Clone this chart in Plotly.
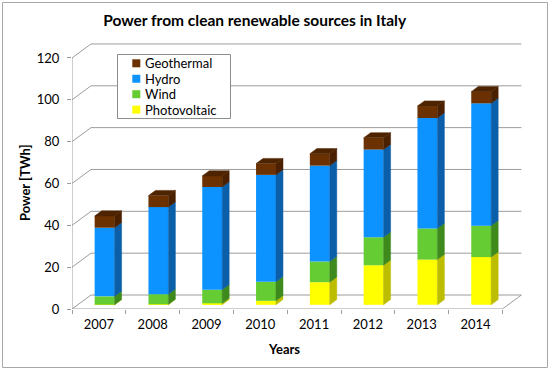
import plotly.graph_objects as go

# ---------------- data ----------------
years = ["2007", "2008", "2009", "2010", "2011", "2012", "2013", "2014"]
photovoltaic = [0.04, 0.2, 0.7, 1.9, 10.8, 18.9, 21.6, 22.8]
wind = [4.0, 4.9, 6.5, 9.1, 9.9, 13.4, 14.9, 15.0]
hydro = [32.8, 41.6, 49.1, 51.1, 45.8, 41.9, 52.8, 58.5]
geothermal = [5.6, 5.5, 5.3, 5.4, 5.7, 5.6, 5.7, 5.6]
y_ticks = [0, 20, 40, 60, 80, 100, 120]

series_names = ["Photovoltaic", "Wind", "Hydro", "Geothermal"]
series_values = [photovoltaic, wind, hydro, geothermal]
front_colors = ["#FFFF00", "#66CC33", "#0D93FF", "#6B3100"]
side_colors = ["#BDBD00", "#3F8A1C", "#0A5FA8", "#4A2000"]

# ---------------- geometry ----------------
FIG_W, FIG_H = 550, 371
ML, MR, MT, MB = 72, 28, 43, 62
PLOT_W = FIG_W - ML - MR
PLOT_H = FIG_H - MT - MB
PX_X = 53.8          # px per category
PX_Y = 2.092         # px per TWh
DX = 19 / PX_X       # floor depth (x, data units)
DY = 14 / PX_Y       # floor depth (y, data units)
F_OFF = 0.30         # bar front position within depth
F_DEP = 0.37         # bar depth fraction
BW = 0.37            # bar width (category units)

n = len(years)
xr = [-0.5, -0.5 + PLOT_W / PX_X]
yr = [0, PLOT_H / PX_Y]
GRID = "#9C9C9C"

fig = go.Figure()

cum = [0.0] * n
bx = [i + F_OFF * DX for i in range(n)]
bdx, bdy = F_DEP * DX, F_DEP * DY
for k, (name, vals) in enumerate(zip(series_names, series_values)):
    base = [c + F_OFF * DY for c in cum]
    fig.add_trace(go.Bar(
        x=bx, y=vals, base=base, width=BW, name=name, showlegend=False,
        marker=dict(color=front_colors[k], line=dict(width=0)),
        hovertemplate=name + " %{y} TWh<extra></extra>",
    ))
    # side faces
    sx, sy = [], []
    for i in range(n):
        x0 = bx[i] + BW / 2
        b0, t0 = base[i], base[i] + vals[i]
        sx += [x0, x0 + bdx, x0 + bdx, x0, x0, None]
        sy += [b0, b0 + bdy, t0 + bdy, t0, b0, None]
    fig.add_trace(go.Scatter(
        x=sx, y=sy, mode="lines", fill="toself", fillcolor=side_colors[k],
        line=dict(color=side_colors[k], width=0.5), showlegend=False,
        hoverinfo="skip"))
    cum = [c + v for c, v in zip(cum, vals)]

# top faces of topmost segment
tx, ty = [], []
for i in range(n):
    xl, xrr = bx[i] - BW / 2, bx[i] + BW / 2
    t0 = cum[i] + F_OFF * DY
    tx += [xl, xl + bdx, xrr + bdx, xrr, xl, None]
    ty += [t0, t0 + bdy, t0 + bdy, t0, t0, None]
fig.add_trace(go.Scatter(
    x=tx, y=ty, mode="lines", fill="toself", fillcolor="#4E2300",
    line=dict(color="#4E2300", width=0.5), showlegend=False, hoverinfo="skip"))

# ---------------- walls / gridlines ----------------
x_first, x_last = -0.5, n - 0.5
shapes = []
for v in y_ticks:
    shapes.append(dict(type="line", xref="x", yref="y", layer="below",
                       x0=x_first, y0=v, x1=x_first + DX, y1=v + DY,
                       line=dict(color=GRID, width=1)))
    shapes.append(dict(type="line", xref="x", yref="y", layer="below",
                       x0=x_first + DX, y0=v + DY, x1=x_last + DX, y1=v + DY,
                       line=dict(color=GRID, width=1)))
shapes.append(dict(type="line", xref="x", yref="y", layer="below",
                   x0=x_first, y0=y_ticks[0], x1=x_last, y1=y_ticks[0],
                   line=dict(color=GRID, width=1)))
shapes.append(dict(type="line", xref="x", yref="y", layer="below",
                   x0=x_last, y0=y_ticks[0], x1=x_last + DX, y1=y_ticks[0] + DY,
                   line=dict(color=GRID, width=1)))
shapes.append(dict(type="line", xref="x", yref="y", layer="below",
                   x0=x_first, y0=y_ticks[0], x1=x_first, y1=y_ticks[-1],
                   line=dict(color=GRID, width=1)))


def px2paper_x(px):
    return (px - ML) / PLOT_W


def px2paper_y(py):
    return (FIG_H - MB - py) / PLOT_H


# outer chart border
shapes.append(dict(type="rect", xref="paper", yref="paper", layer="below",
                   x0=px2paper_x(2.5), x1=px2paper_x(547.5),
                   y0=px2paper_y(367.5), y1=px2paper_y(2.5),
                   line=dict(color="#A8A8A8", width=1)))

FONT = "Lato, 'Open Sans', sans-serif"

# ---------------- legend (box, keys, labels) ----------------
LEG_L, LEG_R, LEG_T, LEG_B = 117.5, 230.5, 54.5, 118.5
KEY_X0, KEY_SIZE, TXT_X = 132.3, 8, 143.3
ROW0, ROW_STEP = 63.3, 15.45
shapes.append(dict(type="rect", xref="paper", yref="paper", layer="above",
                   x0=px2paper_x(LEG_L), x1=px2paper_x(LEG_R),
                   y0=px2paper_y(LEG_B), y1=px2paper_y(LEG_T),
                   fillcolor="white", line=dict(color="#8C8C8C", width=1)))
annotations = []
legend_order = list(range(len(series_names)))[::-1]
for row, k in enumerate(legend_order):
    cy = ROW0 + row * ROW_STEP
    shapes.append(dict(type="rect", xref="paper", yref="paper", layer="above",
                       x0=px2paper_x(KEY_X0), x1=px2paper_x(KEY_X0 + KEY_SIZE),
                       y0=px2paper_y(cy + KEY_SIZE / 2),
                       y1=px2paper_y(cy - KEY_SIZE / 2),
                       fillcolor=front_colors[k], line=dict(width=0)))
    annotations.append(dict(text=series_names[k], xref="paper", yref="paper",
                            x=px2paper_x(TXT_X), y=px2paper_y(cy),
                            xanchor="left", yanchor="middle", showarrow=False,
                            font=dict(size=13, family=FONT)))

annotations += [
    dict(text="<b>Power [TWh]</b>", xref="paper", yref="paper",
         x=px2paper_x(25), y=px2paper_y(183), textangle=-90,
         showarrow=False, font=dict(size=13, family=FONT),
         xanchor="center", yanchor="middle"),
    dict(text="<b>Years</b>", xref="paper", yref="paper",
         x=px2paper_x(284), y=px2paper_y(348.7), showarrow=False,
         font=dict(size=13, family=FONT), xanchor="center",
         yanchor="middle"),
]

fig.update_layout(
    width=FIG_W, height=FIG_H,
    margin=dict(l=ML, r=MR, t=MT, b=MB, pad=0),
    paper_bgcolor="white", plot_bgcolor="white",
    barmode="overlay", showlegend=False,
    font=dict(family=FONT, size=13, color="#000000"),
    title=dict(text="<b>Power from clean renewable sources in Italy</b>",
               x=254.7 / FIG_W, xanchor="center", y=1 - 21 / FIG_H,
               yanchor="middle", font=dict(size=15.5, family=FONT)),
    xaxis=dict(range=xr, tickmode="array", tickvals=list(range(n)),
               ticktext=years, ticks="", showgrid=False, zeroline=False,
               showline=False, ticklabelstandoff=6, fixedrange=True,
               minor=dict(tickmode="array",
                          tickvals=[i - 0.5 for i in range(n + 1)],
                          ticks="outside", ticklen=4, tickcolor=GRID,
                          showgrid=False)),
    yaxis=dict(range=yr, tickmode="array", tickvals=y_ticks, ticks="outside",
               ticklen=4, tickcolor=GRID, showgrid=False, zeroline=False,
               showline=False, ticklabelstandoff=5, fixedrange=True),
    shapes=shapes,
    annotations=annotations,
)

fig.write_html("out.html", config={"displayModeBar": False},
               post_script="document.body.style.margin='0px';")
